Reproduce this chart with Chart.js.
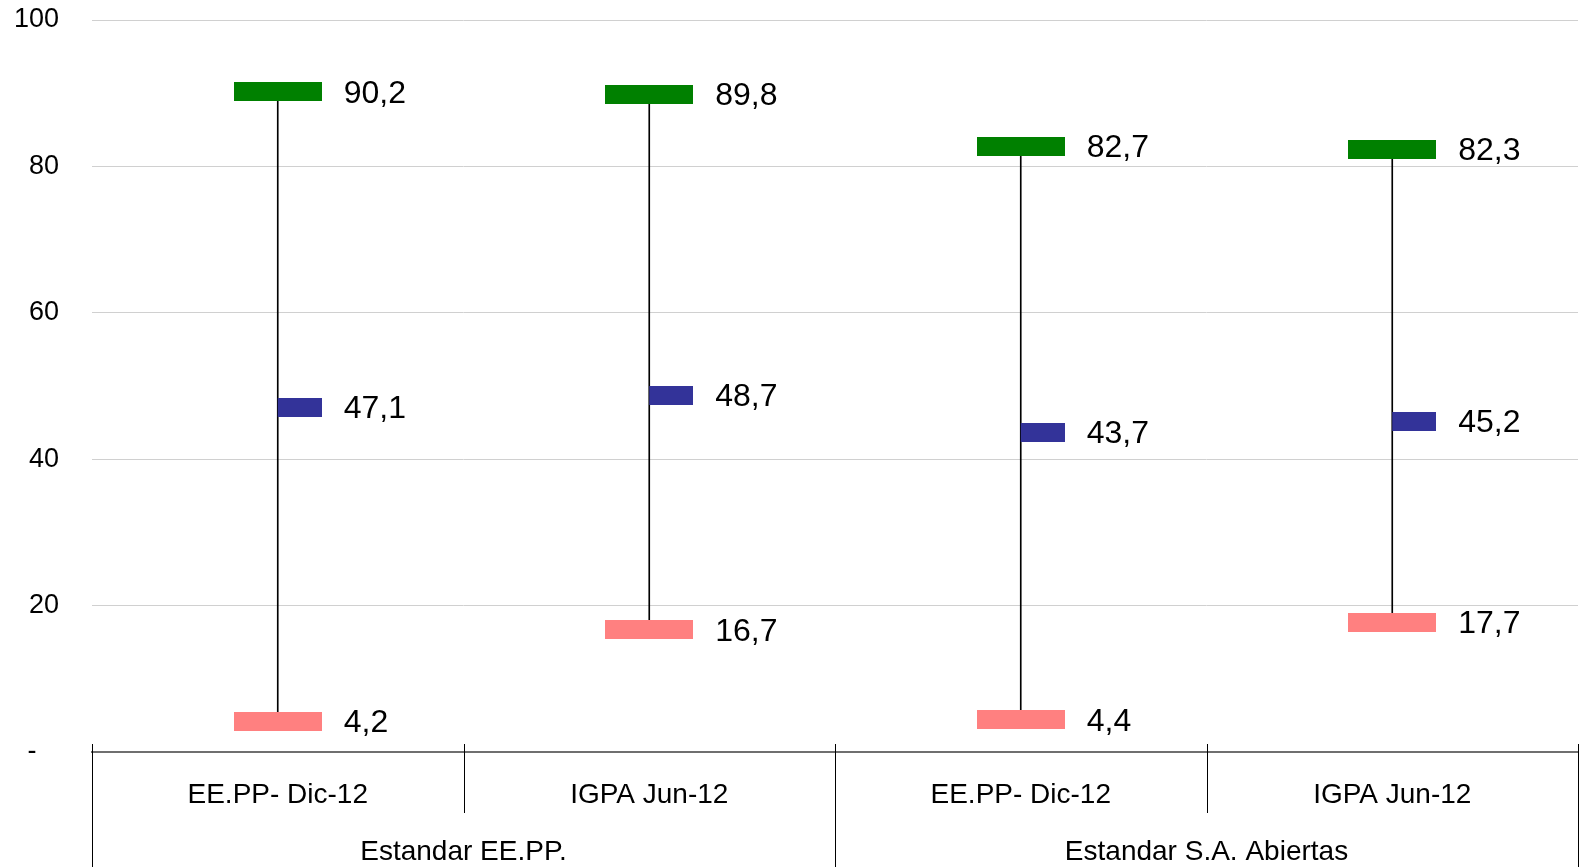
<!DOCTYPE html>
<html>
<head>
<meta charset="utf-8">
<script src="https://cdn.jsdelivr.net/npm/chart.js@4/dist/chart.umd.min.js"></script>
<style>
    html, body { margin: 0; padding: 0; background: #fff; }
    #wrap { width: 1583px; height: 867px; }
</style>
</head>
<body>
<div id="wrap"><canvas id="rangoChart" width="1583" height="867"></canvas></div>
<script>
const categorias = ['EE.PP- Dic-12', 'IGPA Jun-12', 'EE.PP- Dic-12', 'IGPA Jun-12'];
const grupos = ['Estandar EE.PP.', 'Estandar S.A. Abiertas'];
const maximo = [90.2, 89.8, 82.7, 82.3];
const promedio = [47.1, 48.7, 43.7, 45.2];
const minimo = [4.2, 16.7, 4.4, 17.7];
const yTicks = [0, 20, 40, 60, 80, 100];

const FONT = 'Arial, "Liberation Sans", sans-serif';

function marca(color, soloDerecha) {
    let c = document.createElement('canvas');
    c.width = 88;
    c.height = 19;
    let ctx = c.getContext('2d');
    ctx.fillStyle = color;
    if (soloDerecha) ctx.fillRect(44, 0, 44, 19);
    else ctx.fillRect(0, 0, 88, 19);
    return c;
}

const fmt = v => v.toFixed(1).replace('.', ',');

// etiquetas de valores + eje x de dos niveles
const dibujos = {
    id: 'dibujos',
    afterDatasetsDraw(chart) {
        let ctx = chart.ctx;
        ctx.save();
        ctx.font = '32px ' + FONT;
        ctx.fillStyle = '#000';
        ctx.textAlign = 'left';
        ctx.textBaseline = 'middle';
        chart.data.datasets.forEach((ds, di) => {
            if (ds.type !== 'line') return;
            chart.getDatasetMeta(di).data.forEach((pt, i) => {
                ctx.fillText(fmt(ds.data[i]), pt.x + 66, pt.y + 2);
            })
        })
        ctx.restore();
    },
    afterDraw(chart) {
        let ctx = chart.ctx;
        let x = chart.scales.x;
        let y0 = chart.chartArea.bottom;
        let ancho = x.getPixelForValue(1) - x.getPixelForValue(0);
        ctx.save();
        ctx.strokeStyle = '#000';
        ctx.lineWidth = 1;
        for (let i = 0; i <= categorias.length; i++) {
            let px = Math.round(x.getPixelForValue(0) - ancho / 2 + i * ancho) + 0.5;
            ctx.beginPath();
            ctx.moveTo(px, y0 - 8);
            ctx.lineTo(px, i % 2 === 0 ? chart.height : y0 + 61);
            ctx.stroke();
        }
        ctx.font = '28px ' + FONT;
        ctx.fillStyle = '#000';
        ctx.textAlign = 'center';
        ctx.textBaseline = 'middle';
        categorias.forEach((c, i) => {
            ctx.fillText(c, x.getPixelForValue(i), y0 + 43);
        })
        grupos.forEach((g, i) => {
            ctx.fillText(g, x.getPixelForValue(i * 2) + ancho / 2, y0 + 100);
        })
        ctx.restore();
    }
};

var rangoChart = new Chart(document.getElementById('rangoChart'), {
    type: 'bar',
    data: {
        labels: categorias,
        datasets: [{
            type: 'line',
            label: 'Máximo',
            data: maximo,
            showLine: false,
            pointStyle: marca('#008000', false),
            order: 1
        }, {
            type: 'line',
            label: 'Promedio',
            data: promedio,
            showLine: false,
            pointStyle: marca('#333399', true),
            order: 1
        }, {
            type: 'line',
            label: 'Mínimo',
            data: minimo,
            showLine: false,
            pointStyle: marca('#FF8080', false),
            order: 1
        }, {
            type: 'bar',
            label: 'Rango',
            data: minimo.map((v, i) => [v, maximo[i]]),
            backgroundColor: '#000',
            borderWidth: 0,
            barThickness: 1,
            grouped: false,
            order: 2
        }]
    },
    options: {
        responsive: false,
        animation: false,
        layout: {
            padding: { top: 20, right: 3, left: 0, bottom: 0 }
        },
        plugins: {
            legend: { display: false },
            tooltip: { enabled: false }
        },
        scales: {
            x: {
                grid: { display: false },
                border: { display: true, color: '#6f6f6f', width: 2 },
                ticks: { display: false },
                afterFit: (scale) => { scale.height = 115; }
            },
            y: {
                min: 0,
                max: 100,
                afterBuildTicks: (scale) => {
                    scale.ticks = yTicks.map(v => ({ value: v }));
                },
                grid: { color: '#d0d0d0', lineWidth: 1, drawTicks: false },
                border: { display: false },
                ticks: {
                    padding: 33,
                    color: '#000',
                    font: { size: 27, family: FONT },
                    callback: (v) => v === 0 ? '-   ' : v
                },
                afterFit: (scale) => {
                    scale.width = 92;
                    // el padding de las marcas no debe empujar el area del grafico
                    scale.paddingTop = 0;
                    scale.paddingBottom = 0;
                }
            }
        }
    },
    plugins: [dibujos]
});
</script>
</body>
</html>
